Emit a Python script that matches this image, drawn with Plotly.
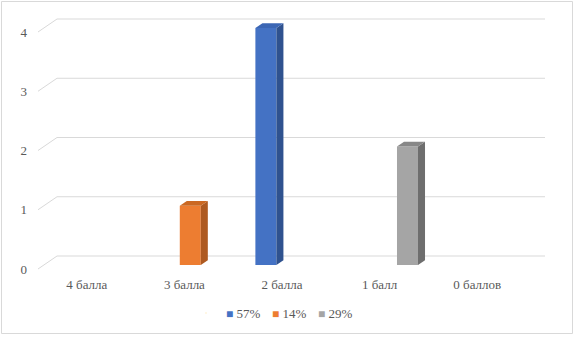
import plotly.graph_objects as go

# ---------------- data ----------------
categories = ["4 балла", "3 балла", "2 балла", "1 балл", "0 баллов"]
series_names = ["57%", "14%", "29%"]
values_57 = [None, None, 4, None, None]
values_14 = [None, 1, None, None, None]
values_29 = [None, None, None, 2, None]
y_ticks = [0, 1, 2, 3, 4]

series_values = [values_57, values_14, values_29]
front_colors = ["#4472C4", "#ED7D31", "#A5A5A5"]
side_colors = ["#2F528F", "#AE5A21", "#6E6E6E"]
top_colors = ["#3B66B4", "#CB6822", "#878787"]

# ---------------- geometry (pixels -> data units) ----------------
W, H = 576, 338
PL, PR, PT, PB = 36, 547, 17, 271           # plot area edges (px)
X0_PX, UX = 38, 97.6                        # pixel of x=-0.5, px per category
Y0_PX, UY = 269, 59.25                      # pixel of y=0 (front), px per unit
ncat = len(categories)

x_range = [-0.5 - (X0_PX - PL) / UX, -0.5 + (PR - X0_PX) / UX]
y_range = [-(PB - Y0_PX) / UY, (Y0_PX - PT) / UY]

wall_dx = 19 / UX            # depth of the chart (back wall offset)
wall_dy = 13 / UY
f_front, f_back = 0.31, 0.68  # depth fractions of bar front / back faces
slot = 22 / UX               # spacing of series within a category
bw = 21 / UX                 # bar front width

fig = go.Figure()

nser = len(series_values)
for s, vals in enumerate(series_values):
    off = (s - (nser - 1) / 2) * slot + f_front * wall_dx
    base = f_front * wall_dy
    fig.add_trace(go.Bar(
        x=list(range(ncat)), y=vals, base=base,
        offset=off - bw / 2, width=bw,
        marker=dict(color=front_colors[s], line=dict(width=0)),
        showlegend=False, hoverinfo="skip",
    ))
    ddx = (f_back - f_front) * wall_dx
    ddy = (f_back - f_front) * wall_dy
    sx, sy, tx, ty = [], [], [], []
    for i, v in enumerate(vals):
        if v is None:
            continue
        x0 = i + off - bw / 2
        x1 = i + off + bw / 2
        top = base + v
        sx += [x1, x1 + ddx, x1 + ddx, x1, x1, None]
        sy += [base, base + ddy, top + ddy, top, base, None]
        tx += [x0, x0 + ddx, x1 + ddx, x1, x0, None]
        ty += [top, top + ddy, top + ddy, top, top, None]
    fig.add_trace(go.Scatter(x=sx, y=sy, mode="lines", fill="toself",
                             fillcolor=side_colors[s], line=dict(width=0),
                             showlegend=False, hoverinfo="skip"))
    fig.add_trace(go.Scatter(x=tx, y=ty, mode="lines", fill="toself",
                             fillcolor=top_colors[s], line=dict(width=0),
                             showlegend=False, hoverinfo="skip"))

# legend entries
for s, name in enumerate(series_names):
    fig.add_trace(go.Scatter(
        x=[None], y=[None], mode="markers",
        marker=dict(size=1, opacity=0),
        name=f'<span style="color:{front_colors[s]};font-size:12px">■</span> {name}',
        legendwidth=(1 if s < nser - 1 else 44),
    ))

# gridlines (back wall + slanted side wall)
shapes = []
for v in y_ticks:
    shapes.append(dict(type="line", xref="x", yref="y", layer="below",
                       x0=-0.5, y0=v, x1=-0.5 + wall_dx, y1=v + wall_dy,
                       line=dict(color="#D9D9D9", width=1)))
    shapes.append(dict(type="line", xref="x", yref="y", layer="below",
                       x0=-0.5 + wall_dx, y0=v + wall_dy,
                       x1=ncat - 0.5 + wall_dx, y1=v + wall_dy,
                       line=dict(color="#D9D9D9", width=1)))

# outer chart border
pw, ph = PR - PL, PB - PT
def px2paper_x(px):
    return (px - PL) / pw
def px2paper_y(py):
    return (PB - py) / ph
shapes.append(dict(type="rect", xref="paper", yref="paper", layer="below",
                   x0=px2paper_x(1.5), x1=px2paper_x(572.5),
                   y0=px2paper_y(333.5), y1=px2paper_y(1.5),
                   line=dict(color="#D9D9D9", width=1), fillcolor="rgba(0,0,0,0)"))

font_family = "Liberation Serif"
fig.update_layout(
    width=W, height=H,
    margin=dict(l=PL, r=W - PR, t=PT, b=H - PB, autoexpand=False),
    paper_bgcolor="white", plot_bgcolor="white",
    barmode="overlay",
    font=dict(family=font_family, size=13, color="#595959"),
    shapes=shapes,
    showlegend=True,
    legend=dict(orientation="h", x=px2paper_x(186), xanchor="left",
                y=px2paper_y(313), yanchor="middle",
                entrywidth=1, entrywidthmode="pixels",
                font=dict(family=font_family, size=13, color="#595959"),
                bgcolor="rgba(0,0,0,0)"),
    xaxis=dict(range=x_range, tickvals=list(range(ncat)), ticktext=categories,
               showgrid=False, zeroline=False, showline=False, ticks="",
               ticklabelstandoff=4, fixedrange=True,
               tickfont=dict(family=font_family, size=13, color="#595959")),
    yaxis=dict(range=y_range, tickvals=y_ticks, ticktext=[str(v) for v in y_ticks],
               showgrid=False, zeroline=False, showline=False, ticks="",
               ticklabelstandoff=8, fixedrange=True,
               tickfont=dict(family=font_family, size=13, color="#595959")),
)

fig.write_html("out.html", config={"displayModeBar": False},
               post_script="document.body.style.margin='0';document.body.style.overflow='hidden';")
